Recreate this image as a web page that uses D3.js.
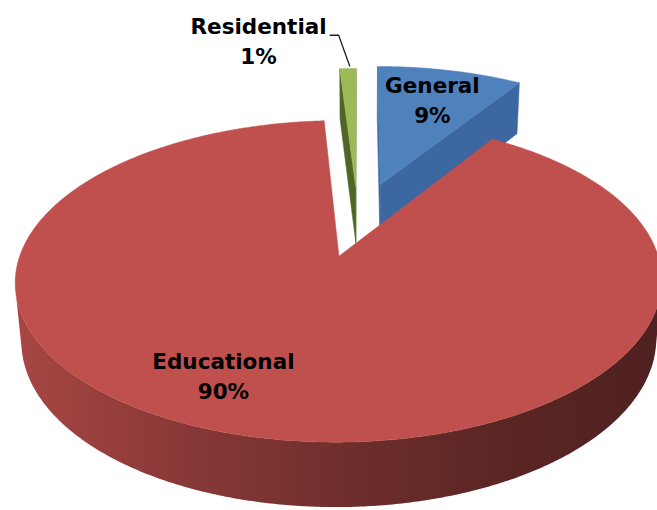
<!DOCTYPE html>
<html>
<head>
<meta charset="utf-8">
<script src="https://cdn.jsdelivr.net/npm/d3@7"></script>
<style>
  html, body { margin: 0; padding: 0; background: #ffffff; }
  svg { display: block; }
</style>
</head>
<body>
<svg id="chart" width="657" height="510"></svg>
<script>
// ---- data ----
const categories = ["General", "Educational", "Residential"];
const values = [9, 90, 1];

// ---- styles ----
const topColors = ["#4F81BD", "#C0504D", "#9BBB59"];
const wallColors = ["#3D67A0", "#7A302E", "#4F6627"];
const labelFont = { family: "'DejaVu Sans', Verdana, sans-serif", size: 21.5, weight: "bold", lineGap: 30 };

// ---- 3D pie layout (radius = 1 unit) ----
const view = { F: 1796, D: 5.83, tilt: 28.3 * Math.PI / 180, cx: 358, cy: 221 };
const thickness = 0.213;
const explodeBy = { General: 0.27, Educational: 0.24, Residential: 0.24 };
// label anchor on each slice's top face: radius fraction and angle (deg, null = slice middle)
const labelSpec = {
  General:     { r: 0.72,  deg: null, leader: false },
  Educational: { r: 0.75,  deg: 205,  leader: false },
  Residential: { r: 1.33,  deg: 343,  leader: true }
};

const W = 657, H = 510;
const svg = d3.select("#chart");

const color = d3.scaleOrdinal().domain(categories).range(topColors);
const wallColor = d3.scaleOrdinal().domain(categories).range(wallColors);
const pct = d3.format(".0%");
const total = d3.sum(values);

const pie = d3.pie().sort(null).value(d => d.value).startAngle(0).endAngle(2 * Math.PI);
const arcs = pie(categories.map((name, i) => ({ name, value: values[i] })));

const sinT = Math.sin(view.tilt), cosT = Math.cos(view.tilt);
const cam = [0, view.D * sinT, -view.D * cosT];

// perspective projection: x right, y up, z away from viewer
function project([x, y, z]) {
  const d = view.D + z * cosT - y * sinT;
  return [view.cx + view.F * x / d, view.cy - view.F * (y * cosT + z * sinT) / d];
}
const dot = (a, b) => a[0] * b[0] + a[1] * b[1] + a[2] * b[2];
const sub = (a, b) => [a[0] - b[0], a[1] - b[1], a[2] - b[2]];
const poly = d3.line().curve(d3.curveLinearClosed);

const slices = arcs.map(a => {
  const mid = (a.startAngle + a.endAngle) / 2;
  const e = explodeBy[a.data.name];
  const off = [e * Math.sin(mid), 0, e * Math.cos(mid)];
  return Object.assign({}, a, { mid, off });
});
const rim = (sl, t, y) => [sl.off[0] + Math.sin(t), y, sl.off[2] + Math.cos(t)];
const apex = (sl, y) => [sl.off[0], y, sl.off[2]];

// side shading gradient (lighter on the left, dark on the right)
const defs = svg.append("defs");
const shadeStops = [[0, 0.35], [0.22, 0.85], [0.5, 1.5], [0.75, 2.1], [1, 2.5]];
slices.forEach((sl, i) => {
  const g = defs.append("linearGradient")
    .attr("id", "side" + i).attr("gradientUnits", "userSpaceOnUse")
    .attr("x1", 10).attr("x2", W).attr("y1", 0).attr("y2", 0);
  shadeStops.forEach(([o, k]) => g.append("stop").attr("offset", o)
    .attr("stop-color", d3.color(color(sl.data.name)).darker(k).formatHex()));
});

// paint farthest slices first
const order = slices.map((sl, i) => ({ sl, i })).sort((p, q) => q.sl.off[2] - p.sl.off[2]);
const gPie = svg.append("g");

order.forEach(({ sl, i }) => {
  const g = gPie.append("g");
  const name = sl.data.name;

  // radial walls
  const walls = [
    { t: sl.startAngle, n: [-Math.cos(sl.startAngle), 0, Math.sin(sl.startAngle)] },
    { t: sl.endAngle,   n: [Math.cos(sl.endAngle), 0, -Math.sin(sl.endAngle)] }
  ];
  walls.forEach(w => {
    if (dot(sub(cam, apex(sl, -thickness / 2)), w.n) <= 0) return;
    const pts = [apex(sl, 0), rim(sl, w.t, 0), rim(sl, w.t, -thickness), apex(sl, -thickness)].map(project);
    g.append("path").attr("d", poly(pts)).attr("fill", wallColor(name))
      .attr("stroke", wallColor(name)).attr("stroke-width", 0.5);
  });

  // outer curved side, front-facing runs only
  const step = 0.5 * Math.PI / 180;
  const n = Math.max(2, Math.ceil((sl.endAngle - sl.startAngle) / step));
  const runs = [];
  let cur = null;
  for (let k = 0; k <= n; k++) {
    const t = sl.startAngle + (sl.endAngle - sl.startAngle) * k / n;
    const nrm = [Math.sin(t), 0, Math.cos(t)];
    const vis = dot(sub(cam, rim(sl, t, -thickness / 2)), nrm) > 0;
    if (vis) { if (!cur) { cur = []; runs.push(cur); } cur.push(t); } else cur = null;
  }
  runs.forEach(run => {
    const pts = run.map(t => project(rim(sl, t, 0)))
      .concat(run.slice().reverse().map(t => project(rim(sl, t, -thickness))));
    g.append("path").attr("d", poly(pts)).attr("fill", `url(#side${i})`);
  });

  // top face
  const topPts = [project(apex(sl, 0))];
  for (let k = 0; k <= n; k++) {
    const t = sl.startAngle + (sl.endAngle - sl.startAngle) * k / n;
    topPts.push(project(rim(sl, t, 0)));
  }
  g.append("path").attr("d", poly(topPts)).attr("fill", color(name))
    .attr("stroke", color(name)).attr("stroke-width", 0.5);
});

// data labels
const gLab = svg.append("g");
slices.forEach(sl => {
  const spec = labelSpec[sl.data.name];
  const a = spec.deg == null ? sl.mid : spec.deg * Math.PI / 180;
  const [lx, ly] = project([sl.off[0] + spec.r * Math.sin(a), 0, sl.off[2] + spec.r * Math.cos(a)]);
  const b1 = ly - 7;
  const t = gLab.append("text")
    .attr("text-anchor", "middle")
    .attr("font-family", labelFont.family)
    .attr("font-size", labelFont.size)
    .attr("font-weight", labelFont.weight)
    .attr("fill", "#000");
  const t1 = t.append("tspan").attr("x", lx).attr("y", b1).text(sl.data.name);
  t.append("tspan").attr("x", lx).attr("y", b1 + labelFont.lineGap).text(pct(sl.data.value / total));

  if (spec.leader) {
    const right = lx + t1.node().getComputedTextLength() / 2;
    const end = project(rim(sl, sl.mid, 0));
    gLab.insert("path", "text")
      .attr("d", d3.line()([[right + 3, b1 + 1], [right + 12, b1 + 1], [end[0] + 2, end[1] - 2]]))
      .attr("fill", "none").attr("stroke", "#222").attr("stroke-width", 1.3);
  }
});
</script>
</body>
</html>
